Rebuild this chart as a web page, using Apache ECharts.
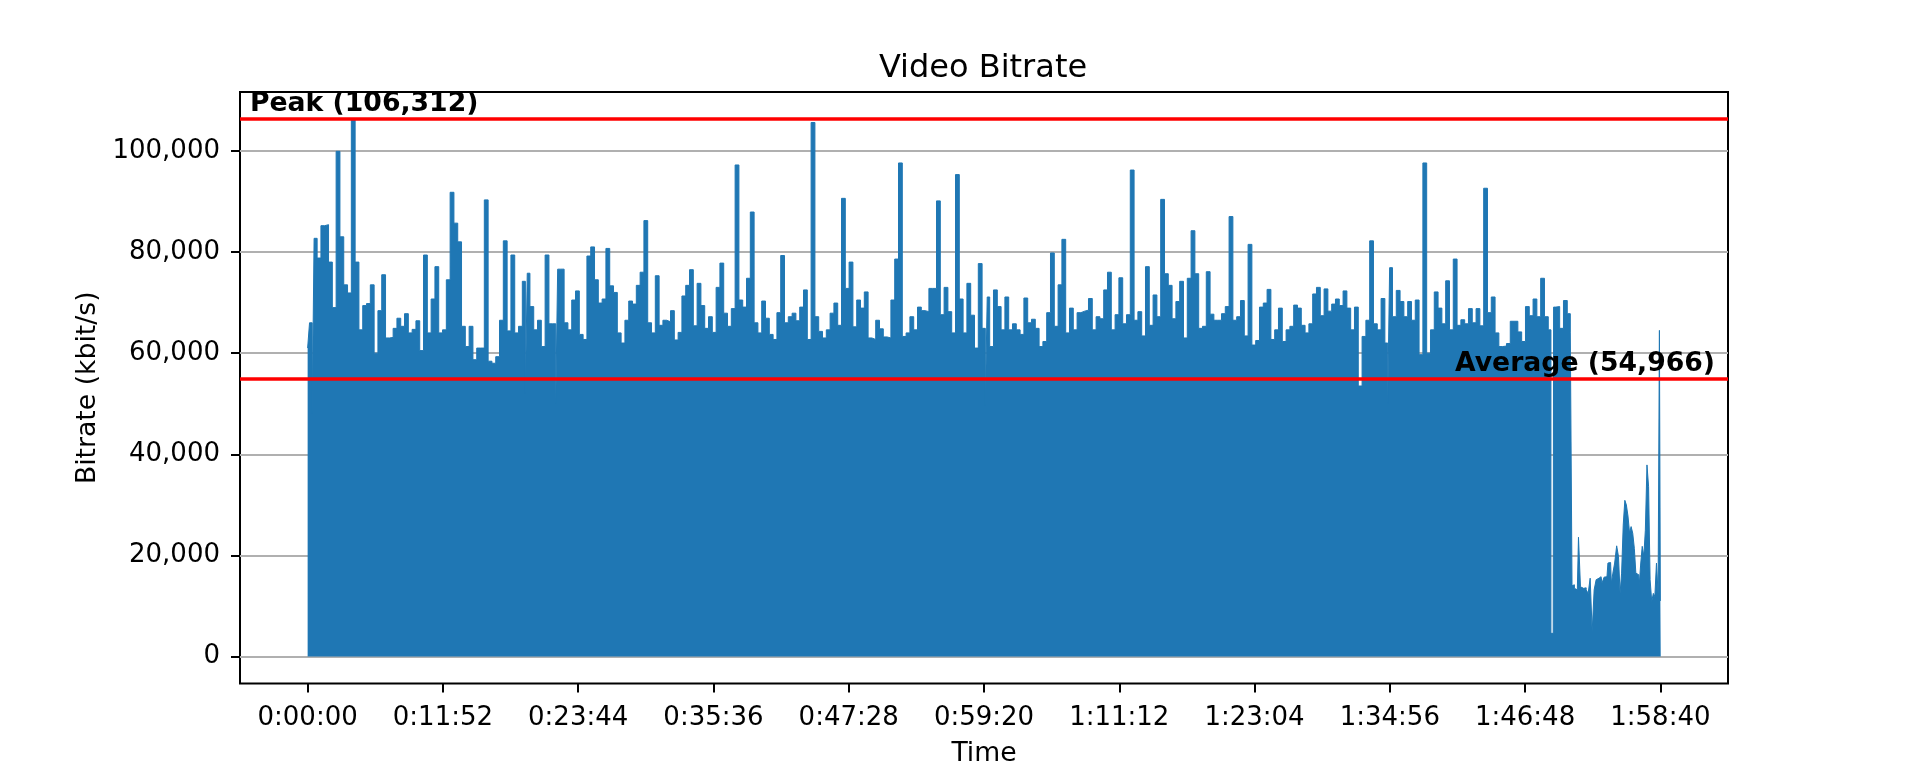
<!DOCTYPE html>
<html>
<head>
<meta charset="utf-8">
<script src="https://cdn.jsdelivr.net/npm/echarts@6/dist/echarts.min.js"></script>
<style>
html,body{margin:0;padding:0;background:#fff;}
#chart{width:1920px;height:768px;}
</style>
</head>
<body>
<div id="chart"></div>
<script>
// ---- data ----
const sampleStep = 20; // seconds between samples in mainKbps
const mainKbps = [
61000,66000,82700,78800,85200,85400,78000,69000,99900,83000,
73500,71900,106312,78000,64600,69400,69800,73500,60000,68400,
75500,63000,63100,64900,66900,65300,67800,64000,64700,66400,
60500,79400,64000,70700,77100,64000,64600,74500,91800,85700,
82000,65300,61300,65300,58700,61000,61000,90300,58400,58000,
59300,66500,82200,64400,79400,64000,65300,74200,75800,69200,
64600,66500,61300,79400,65800,65800,76600,76600,66000,64600,
70500,72300,63700,62700,79200,81000,74500,69900,70700,80700,
73300,72000,64000,62000,66500,70300,69700,73400,76000,86200,
66000,64000,75300,65500,66500,66200,68400,62600,64100,71300,
73400,76500,65400,73800,69400,64900,67200,64100,73000,77800,
67900,65300,68800,97200,70500,69100,74800,87900,66000,64000,
70300,66900,63700,62700,68000,79300,66000,67200,67900,66400,
69100,72500,62700,105600,67200,64300,63000,64600,67900,69900,
65500,90600,72800,78000,65200,70500,68900,72100,63000,62700,
66500,64800,63200,63000,70500,78600,97600,63300,64000,67200,
64600,69100,68400,68200,72800,72800,90100,67600,73000,68200,
64000,95300,70700,64000,73800,67500,61000,77700,64900,71100,
61300,72500,69200,64600,71100,64600,65800,64600,63700,70900,
66000,66700,64900,61300,62300,68000,79800,65300,73500,82500,
64000,68900,64600,68000,68300,68500,70800,64600,67200,66800,
72500,76000,64600,67600,74900,65800,67600,96200,66500,68200,
63400,77100,65500,71500,67200,90400,75700,73400,66800,70200,
74200,63000,74800,84200,75700,64900,65300,76100,67700,66500,
66500,67800,69200,87000,66500,67200,70400,63400,81500,61600,
62500,69100,69900,72600,62700,64600,68900,62300,64600,65300,
69500,68900,65500,64000,65800,71700,73000,67400,72700,68300,
69700,70700,69400,72300,68900,64600,69100,53500,63300,66500,
82200,65800,64600,70800,62000,76900,67200,72400,70200,67200,
70200,66500,70500,59700,97600,60000,64600,72100,68900,65800,
74300,64600,78600,65500,66600,65800,68800,66000,68800,65400,
92600,68000,71100,64000,61300,61400,61900,66300,66300,64200,
62300,69200,67400,70700,67200,74800,67200,64600,69100,69200,
64900,70400,67800
];
// short dips between regular samples: [seconds, kbit/s]
const dipPoints = [
[28,48000],[1152,52000],[1312,50000],[3574,49600],[5690,50000],[6548,4600],[6556,4600]
];
// last part of the clip: [seconds, kbit/s]
const tailPoints = [
[6652,64000],[6658,14000],[6662,14200],[6673,13500],[6683,13200],[6695,23600],[6704,13800],
[6716,13500],[6724,13600],[6735,13200],[6745,12500],[6756,15500],[6766,4900],[6777,13200],
[6787,15200],[6797,15500],[6808,15800],[6818,14500],[6829,15700],[6839,15800],[6849,18500],
[6858,18600],[6866,14500],[6874,16500],[6885,18500],[6895,21900],[6904,19800],[6912,12500],
[6920,16500],[6929,26000],[6937,30900],[6945,30000],[6954,27800],[6962,24400],[6970,25700],
[6979,24400],[6987,21400],[6995,16500],[7006,16200],[7012,14200],[7020,18100],[7029,21800],
[7037,19900],[7045,25000],[7054,37900],[7062,33600],[7070,15200],[7079,10900],[7087,12500],
[7095,11900],[7104,18500],[7112,12500],[7118,64500],[7122,11000]
];
const peakKbps = 106312;
const averageKbps = 54966;
const xTickSeconds = [0,712,1424,2136,2848,3560,4272,4984,5696,6408,7120];
const yTickValues = [0,20000,40000,60000,80000,100000];
const xRange = [-356, 7476];
const yRange = [-5316, 111628];

// ---- build ----
const seriesData = mainKbps.map((v, i) => [i * sampleStep, v])
  .concat(dipPoints, tailPoints)
  .sort((a, b) => a[0] - b[0]);

function hms(s) {
  const h = Math.floor(s / 3600), m = Math.floor((s % 3600) / 60), sec = Math.round(s % 60);
  return h + ':' + String(m).padStart(2, '0') + ':' + String(sec).padStart(2, '0');
}
function fmtNum(v) { return Math.round(v).toLocaleString('en-US'); }

const FONT = 'DejaVu Sans';
const chart = echarts.init(document.getElementById('chart'), null, {renderer: 'canvas'});
chart.setOption({
  animation: false,
  backgroundColor: '#ffffff',
  textStyle: {fontFamily: FONT},
  title: {
    text: 'Video Bitrate',
    left: 983, top: 53, textAlign: 'center', padding: 0,
    textStyle: {fontFamily: FONT, fontSize: 32, fontWeight: 'normal', color: '#000'}
  },
  grid: {
    left: 240, right: 192, top: 92, bottom: 84.5,
    outerBoundsMode: 'none', containLabel: false,
    show: true, borderColor: '#000', borderWidth: 2, backgroundColor: 'transparent'
  },
  xAxis: {
    type: 'value', min: xRange[0], max: xRange[1],
    name: 'Time', nameLocation: 'middle', nameGap: 57,
    nameTextStyle: {fontFamily: FONT, fontSize: 26.67, color: '#000'},
    axisLine: {show: false, onZero: false},
    axisTick: {show: true, length: 9, lineStyle: {color: '#000', width: 2}, customValues: xTickSeconds},
    axisLabel: {customValues: xTickSeconds, formatter: v => hms(v), margin: 22,
      fontFamily: FONT, fontSize: 26, color: '#000'},
    splitLine: {show: false}
  },
  yAxis: {
    type: 'value', min: yRange[0], max: yRange[1],
    name: 'Bitrate (kbit/s)', nameLocation: 'middle', nameGap: 138.5, nameRotate: 90,
    nameTextStyle: {fontFamily: FONT, fontSize: 26.67, color: '#000'},
    axisLine: {show: false, onZero: false},
    axisTick: {show: true, length: 9, lineStyle: {color: '#000', width: 2}, customValues: yTickValues},
    axisLabel: {customValues: yTickValues, formatter: v => fmtNum(v), margin: 20,
      fontFamily: FONT, fontSize: 26, color: '#000'},
    splitLine: {show: true, lineStyle: {color: '#b0b0b0', width: 2}}
  },
  series: [{
    type: 'line',
    data: seriesData,
    step: 'middle',
    showSymbol: false, symbol: 'none', sampling: false,
    lineStyle: {color: '#1f77b4', width: 1},
    areaStyle: {color: '#1f77b4', opacity: 1},
    silent: true,
    markLine: {
      silent: true, symbol: 'none', animation: false,
      lineStyle: {color: '#ff0000', width: 3.5, type: 'solid'},
      data: [
        {yAxis: peakKbps, label: {show: true, position: 'insideStartTop',
          formatter: 'Peak (' + fmtNum(peakKbps) + ')', distance: [10, 1.5],
          fontFamily: FONT, fontSize: 26.67, fontWeight: 'bold', color: '#000'}},
        {yAxis: averageKbps, label: {show: true, position: 'insideEndTop',
          formatter: 'Average (' + fmtNum(averageKbps) + ')', distance: [13, 1.5],
          fontFamily: FONT, fontSize: 26.67, fontWeight: 'bold', color: '#000'}}
      ]
    }
  }]
});
</script>
</body>
</html>
